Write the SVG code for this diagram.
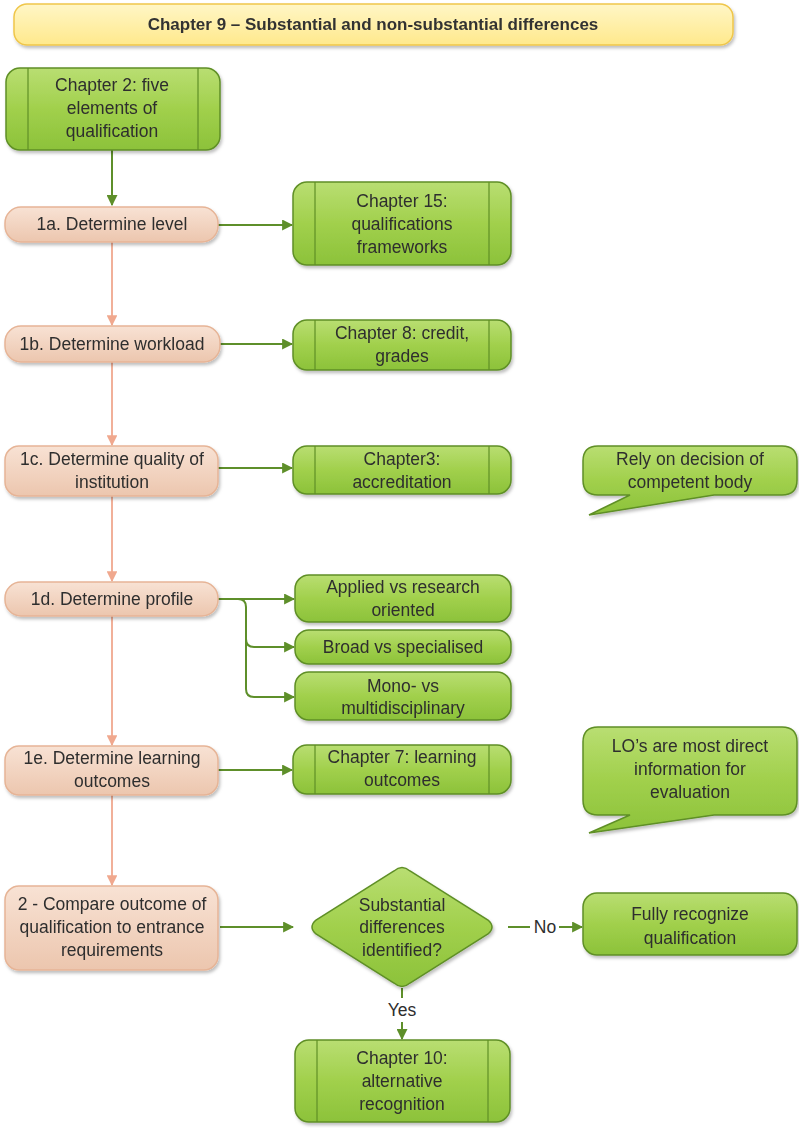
<svg xmlns="http://www.w3.org/2000/svg" width="799" height="1128" viewBox="0 0 799 1128">
<style>
text{font-family:"Liberation Sans",Arial,sans-serif;font-size:17.5px;fill:#2e2e2e;text-anchor:middle;dominant-baseline:central}
.title{font-size:17px;font-weight:bold;fill:#333}
.g{fill:url(#gg);stroke:#5f8f26;stroke-width:1.5}
.p{fill:url(#pg);stroke:#e6b496;stroke-width:1.5}
.il{stroke:#5f8f26;stroke-width:1.2}
.cg{fill:none;stroke:#5e8f2a;stroke-width:2}
.cp{fill:none;stroke:#f0a88e;stroke-width:1.8}
</style>
<defs>
<linearGradient id="gg" x1="0" y1="0" x2="0" y2="1"><stop offset="0" stop-color="#b9de72"/><stop offset="0.5" stop-color="#a1d04c"/><stop offset="1" stop-color="#8cc23a"/></linearGradient>
<linearGradient id="pg" x1="0" y1="0" x2="0" y2="1"><stop offset="0" stop-color="#f8e2d4"/><stop offset="1" stop-color="#ecc6ae"/></linearGradient>
<linearGradient id="yg" x1="0" y1="0" x2="0" y2="1"><stop offset="0" stop-color="#fff6c6"/><stop offset="1" stop-color="#ffe98c"/></linearGradient>
<filter id="sh" x="-10%" y="-10%" width="130%" height="140%"><feDropShadow dx="1.5" dy="2.5" stdDeviation="1.8" flood-color="#000" flood-opacity="0.25"/></filter>
<marker id="ag" viewBox="0 0 10 10" refX="9" refY="5" markerWidth="5.5" markerHeight="5.5" orient="auto" markerUnits="strokeWidth"><path d="M0,0 L10,5 L0,10 Z" fill="#5e8f2a"/></marker>
<marker id="ap" viewBox="0 0 10 10" refX="9" refY="5" markerWidth="6" markerHeight="6" orient="auto" markerUnits="strokeWidth"><path d="M0,0 L10,5 L0,10 Z" fill="#f0a88e"/></marker>
</defs>
<rect width="799" height="1128" fill="#fff"/>

<g id="connectors">
<path class="cg" d="M112,150 V205" marker-end="url(#ag)"/>
<path class="cg" d="M218,225 H292" marker-end="url(#ag)"/>
<path class="cp" d="M112,242 V325" marker-end="url(#ap)"/>
<path class="cg" d="M220,344 H292" marker-end="url(#ag)"/>
<path class="cp" d="M112,362 V445" marker-end="url(#ap)"/>
<path class="cg" d="M218,468 H292" marker-end="url(#ag)"/>
<path class="cp" d="M112,496 V581" marker-end="url(#ap)"/>
<path class="cg" d="M218,599 H294" marker-end="url(#ag)"/>
<path class="cg" d="M218,599 H238 Q246,599 246,607 V639 Q246,647 254,647 H294" marker-end="url(#ag)"/>
<path class="cg" d="M246,639 V689 Q246,697 254,697 H294" marker-end="url(#ag)"/>
<path class="cp" d="M112,615 V745" marker-end="url(#ap)"/>
<path class="cg" d="M218,770 H292" marker-end="url(#ag)"/>
<path class="cp" d="M112,795 V885" marker-end="url(#ap)"/>
<path class="cg" d="M220,927 H293" marker-end="url(#ag)"/>
<path class="cg" d="M508,927 H530"/>
<path class="cg" d="M559,927 H582" marker-end="url(#ag)"/>
<text x="545" y="927">No</text>
<path class="cg" d="M402,988 V998"/>
<path class="cg" d="M402,1022 V1039" marker-end="url(#ag)"/>
<text x="402" y="1010">Yes</text>
</g>

<g id="title" filter="url(#sh)">
<rect x="14" y="4" width="719" height="41" rx="13" fill="url(#yg)" stroke="#efc64a" stroke-width="1.5"/>
<text class="title" x="373" y="24">Chapter 9 – Substantial and non-substantial differences</text>
</g>

<g id="ch2" filter="url(#sh)">
<rect class="g" x="6" y="68" width="214" height="82" rx="14"/>
<line class="il" x1="28" y1="68" x2="28" y2="150"/><line class="il" x1="198" y1="68" x2="198" y2="150"/>
<text x="112" y="85">Chapter 2: five</text><text x="112" y="108">elements of</text><text x="112" y="131">qualification</text>
</g>

<g id="n1a" filter="url(#sh)">
<rect class="p" x="5" y="207" width="213" height="35" rx="16"/>
<text x="112" y="224">1a. Determine level</text>
</g>
<g id="ch15" filter="url(#sh)">
<rect class="g" x="293" y="182" width="218" height="83" rx="14"/>
<line class="il" x1="315" y1="182" x2="315" y2="265"/><line class="il" x1="489" y1="182" x2="489" y2="265"/>
<text x="402" y="201">Chapter 15:</text><text x="402" y="224">qualifications</text><text x="402" y="247">frameworks</text>
</g>

<g id="n1b" filter="url(#sh)">
<rect class="p" x="5" y="326" width="215" height="36" rx="16"/>
<text x="112" y="344">1b. Determine workload</text>
</g>
<g id="ch8" filter="url(#sh)">
<rect class="g" x="293" y="320" width="218" height="50" rx="14"/>
<line class="il" x1="315" y1="320" x2="315" y2="370"/><line class="il" x1="489" y1="320" x2="489" y2="370"/>
<text x="402" y="333">Chapter 8: credit,</text><text x="402" y="356">grades</text>
</g>

<g id="n1c" filter="url(#sh)">
<rect class="p" x="5" y="446" width="213" height="50" rx="14"/>
<text x="112" y="459">1c. Determine quality of</text><text x="112" y="482">institution</text>
</g>
<g id="ch3" filter="url(#sh)">
<rect class="g" x="293" y="446" width="218" height="48" rx="14"/>
<line class="il" x1="315" y1="446" x2="315" y2="494"/><line class="il" x1="489" y1="446" x2="489" y2="494"/>
<text x="402" y="459">Chapter3:</text><text x="402" y="482">accreditation</text>
</g>
<g id="callout1" filter="url(#sh)">
<path class="g" d="M598,446 H782 Q797,446 797,461 V480 Q797,495 782,495 H714 L589,515 L630,495 H598 Q583,495 583,480 V461 Q583,446 598,446 Z"/>
<text x="690" y="459">Rely on decision of</text><text x="690" y="482">competent body</text>
</g>

<g id="n1d" filter="url(#sh)">
<rect class="p" x="5" y="582" width="213" height="34" rx="16"/>
<text x="112" y="599">1d. Determine profile</text>
</g>
<g id="applied" filter="url(#sh)">
<rect class="g" x="295" y="575" width="216" height="47" rx="14"/>
<text x="403" y="587">Applied vs research</text><text x="403" y="610">oriented</text>
</g>
<g id="broad" filter="url(#sh)">
<rect class="g" x="295" y="630" width="216" height="34" rx="14"/>
<text x="403" y="647">Broad vs specialised</text>
</g>
<g id="mono" filter="url(#sh)">
<rect class="g" x="295" y="672" width="216" height="48" rx="14"/>
<text x="403" y="686">Mono- vs</text><text x="403" y="708">multidisciplinary</text>
</g>

<g id="n1e" filter="url(#sh)">
<rect class="p" x="5" y="746" width="213" height="49" rx="14"/>
<text x="112" y="758">1e. Determine learning</text><text x="112" y="781">outcomes</text>
</g>
<g id="ch7" filter="url(#sh)">
<rect class="g" x="293" y="745" width="218" height="49" rx="14"/>
<line class="il" x1="315" y1="745" x2="315" y2="794"/><line class="il" x1="489" y1="745" x2="489" y2="794"/>
<text x="402" y="757">Chapter 7: learning</text><text x="402" y="780">outcomes</text>
</g>
<g id="callout2" filter="url(#sh)">
<path class="g" d="M598,727 H782 Q797,727 797,742 V800 Q797,815 782,815 H714 L589,833 L630,815 H598 Q583,815 583,800 V742 Q583,727 598,727 Z"/>
<text x="690" y="746">LO’s are most direct</text><text x="690" y="769">information for</text><text x="690" y="792">evaluation</text>
</g>

<g id="n2" filter="url(#sh)">
<rect class="p" x="5" y="886" width="213" height="84" rx="14"/>
<text x="112" y="904">2 - Compare outcome of</text><text x="112" y="927">qualification to entrance</text><text x="112" y="950">requirements</text>
</g>
<g id="decision" filter="url(#sh)">
<path class="g" d="M394,871 Q402,864 410,871 L488,920 Q496,927 488,934 L410,983 Q402,990 394,983 L316,934 Q308,927 316,920 Z"/>
<text x="402" y="905">Substantial</text><text x="402" y="927">differences</text><text x="402" y="950">identified?</text>
</g>
<g id="fully" filter="url(#sh)">
<rect class="g" x="583" y="893" width="214" height="62" rx="14"/>
<text x="690" y="914">Fully recognize</text><text x="690" y="938">qualification</text>
</g>
<g id="ch10" filter="url(#sh)">
<rect class="g" x="295" y="1040" width="215" height="82" rx="14"/>
<line class="il" x1="317" y1="1040" x2="317" y2="1122"/><line class="il" x1="488" y1="1040" x2="488" y2="1122"/>
<text x="402" y="1058">Chapter 10:</text><text x="402" y="1081">alternative</text><text x="402" y="1104">recognition</text>
</g>
</svg>
